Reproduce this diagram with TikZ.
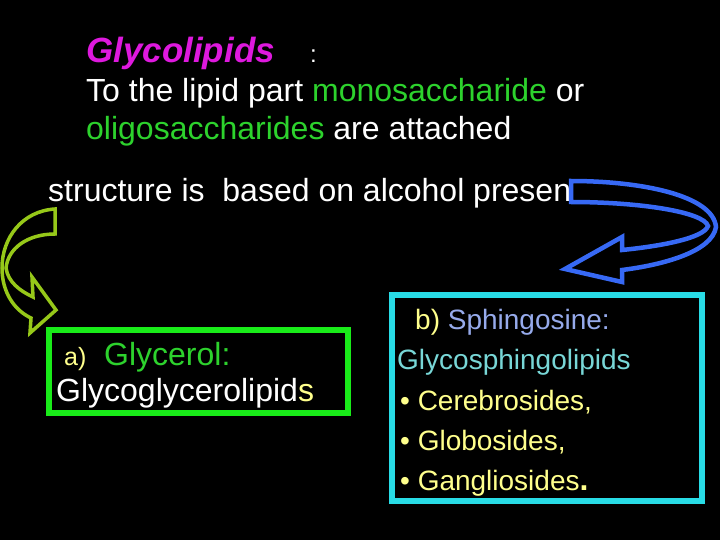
\documentclass[tikz,border=0pt]{standalone}
\usepackage{fontspec}
\setmainfont{Liberation Sans}
\usetikzlibrary{positioning}

\definecolor{magentaT}{RGB}{222,25,222}
\definecolor{greenT}{RGB}{45,210,45}
\definecolor{greenBox}{RGB}{25,235,25}
\definecolor{limeArr}{RGB}{150,200,25}
\definecolor{blueArr}{RGB}{55,105,245}
\definecolor{cyanBox}{RGB}{40,220,230}
\definecolor{yellowT}{RGB}{255,255,140}
\definecolor{sphingoT}{RGB}{150,170,235}
\definecolor{glycoT}{RGB}{120,215,215}

\begin{document}
\begin{tikzpicture}[x=1pt, y=-1pt,
    txt/.style={anchor=base west, inner sep=0pt, text=white, font=\fontsize{32}{38}\selectfont},
    small/.style={txt, font=\fontsize{28}{34}\selectfont},
    frame/.style={line width=6pt}]

    % fondo negro
    \fill[black] (0,0) rectangle (720,540);
    \useasboundingbox (0,0) rectangle (720,540);

    % titulo y definicion
    \node[txt, text=magentaT, font=\fontsize{35}{42}\selectfont\bfseries\itshape] (title) at (86,63) {Glycolipids};
    \node[txt, font=\fontsize{24}{28}\selectfont] (colon) at (310,63) {:};
    \node[txt] (def1) at (86,102) {To the lipid part \textcolor{greenT}{monosaccharide} or};
    \node[txt] (def2) at (86,140) {\textcolor{greenT}{oligosaccharides} are attached};

    % texto base
    \node[txt] (base) at (48,202) {structure is\ \ based on alcohol present};

    % recuadros
    \draw[frame, greenBox] (48.5,330) rectangle (348,413);
    \draw[frame, cyanBox] (392,294.5) rectangle (702,501);

    % caja a)
    \node[txt, text=yellowT, font=\fontsize{25}{30}\selectfont] (alab) at (64,365) {a)};
    \node[txt, text=greenT] (glycerol) at (104,365) {Glycerol:};
    \node[txt] (gglip) at (56,401) {Glycoglycerolipid\textcolor{yellowT}{s}};

    % caja b)
    \node[small, text=yellowT] (blab) at (415,329) {b) \textcolor{sphingoT}{Sphingosine:}};
    \node[small, text=glycoT] (gsglip) at (397,369) {Glycosphingolipids};
    \node[small, text=yellowT] (cere) at (400,410) {\textbullet\ Cerebrosides,};
    \node[small, text=yellowT] (glob) at (400,450) {\textbullet\ Globosides,};
    \node[small, text=yellowT] (gang) at (400,490) {\textbullet\ Gangliosides{\fontsize{32}{34}\selectfont\bfseries .}};

    % flecha curva verde (izquierda)
    \draw[limeArr, line width=3.5pt, line join=miter, fill=black]
        (55,209) .. controls (22,211) and (2,238) .. (2,268)
        .. controls (2,292) and (14,310) .. (31,318)
        -- (30,333) -- (56,310) -- (32,277) -- (33,297)
        .. controls (20,291) and (8,282) .. (6,268)
        .. controls (8,248) and (28,234) .. (55,234) -- cycle;

    % flecha curva azul (derecha)
    \draw[blueArr, line width=4.5pt, line join=miter, fill=black]
        (571,181) .. controls (640,181) and (713,195) .. (716,227)
        .. controls (712,252) and (662,265) .. (622,270)
        -- (622,282) -- (565,269) -- (622,237) -- (622,250)
        .. controls (662,246) and (704,238) .. (708,226)
        .. controls (704,212) and (640,202) .. (571,202) -- cycle;

\end{tikzpicture}
\end{document}
